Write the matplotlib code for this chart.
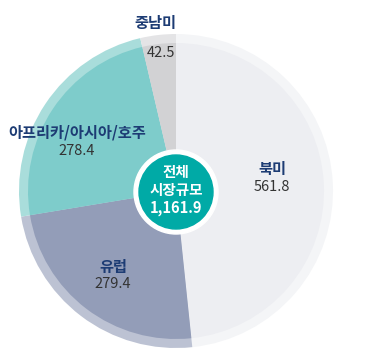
import matplotlib.pyplot as plt
from matplotlib.patches import Circle

plt.rcParams['font.family'] = ['Noto Sans CJK KR', 'DejaVu Sans']

# data
regions = ['북미', '유럽', '아프리카/아시아/호주', '중남미']
values = [561.8, 279.4, 278.4, 42.5]
total = 1161.9
colors = ['#EDEEF2', '#939DB8', '#7ECCCB', '#D2D2D4']
ring_colors = ['#F4F5F7', '#BCC2D3', '#A9DDDB', '#E4E4E6']

# label positions in pixels (from top-left)
label_pos = [(272, 169), (113, 267), (77, 133), (155, 23)]
value_pos = [(272, 187), (113, 284), (77, 151), (161, 53)]

W, H = 368, 354
cx, cy = 176, H - 191

fig = plt.figure(figsize=(W / 100, H / 100), dpi=100)
ax = fig.add_axes([0, 0, 1, 1])

# outer lighter ring, then main pie
ax.pie(values, colors=ring_colors, startangle=90, counterclock=False,
       radius=157, center=(cx, cy), wedgeprops=dict(linewidth=0))
ax.pie(values, colors=colors, startangle=90, counterclock=False,
       radius=148, center=(cx, cy), wedgeprops=dict(linewidth=0))

# centre badge
ax.add_patch(Circle((cx, H - 192), 42, color='white', zorder=5))
ax.add_patch(Circle((cx, H - 192), 37, color='#00AAA6', zorder=6))
ax.text(cx, H - 172, '전체', ha='center', va='center', color='white',
        fontsize=10.5, fontweight='bold', zorder=7)
ax.text(cx, H - 190, '시장규모', ha='center', va='center', color='white',
        fontsize=10.5, fontweight='bold', zorder=7)
ax.text(cx, H - 208, '{:,.1f}'.format(total), ha='center', va='center',
        color='white', fontsize=10.5, fontweight='bold', zorder=7)

for name, v, (lx, ly), (vx, vy) in zip(regions, values, label_pos, value_pos):
    ax.text(lx, H - ly, name, ha='center', va='center', color='#1D3C74',
            fontsize=11, fontweight='bold', zorder=7)
    ax.text(vx, H - vy, '{:.1f}'.format(v), ha='center', va='center',
            color='#333333', fontsize=10.5, fontweight='medium', zorder=7)

ax.set_xlim(0, W); ax.set_ylim(0, H)
ax.set_aspect('equal')
ax.axis('off')
fig.savefig('out.png', dpi=100, facecolor='white')
